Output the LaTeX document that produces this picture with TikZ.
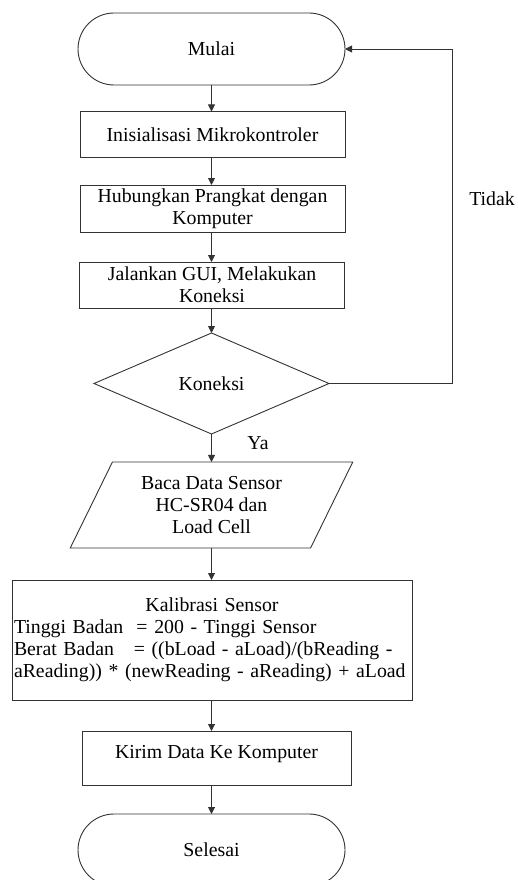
\documentclass[tikz,border=0pt]{standalone}
\usepackage{fontspec}
\setmainfont{Liberation Serif}
\newfontfamily\tnr{Liberation Serif}
\usetikzlibrary{shapes.geometric,arrows.meta}
\begin{document}
\begin{tikzpicture}[x=1pt,y=-1pt,
  every node/.style={font=\tnr\fontsize{19.8}{22}\selectfont, outer sep=0pt},
  ln/.style={draw=black!80, line width=0.9pt},
  arr/.style={ln, -{Triangle[width=7pt,length=7pt]}},
  term/.style={ln, rounded corners=36pt, minimum width=267pt, minimum height=72pt},
  procbox/.style={ln, minimum width=265pt, minimum height=46pt, align=center, inner sep=2pt},
  decis/.style={ln, diamond, minimum width=235pt, minimum height=101pt, inner sep=0pt},
  iobox/.style={ln, trapezium, trapezium left angle=62.4, trapezium right angle=117.6,
     trapezium stretches=true, minimum width=283pt, minimum height=86pt, align=center, inner sep=0pt},
  lbl/.style={inner sep=0pt}
]
\clip (0,0) rectangle (517,880);
\useasboundingbox (0,0) rectangle (517,880);

\node[term] (start) at (211.5,49) {Mulai};
\node[procbox] (init) at (212.5,134.5) {Inisialisasi Mikrokontroler};
\node[procbox, minimum height=47pt] (hub) at (212.5,208.5) {Hubungkan Prangkat dengan\\Komputer};
\node[procbox] (gui) at (212,285) {Jalankan GUI, Melakukan\\Koneksi};
\node[decis] (dec) at (211.5,383.5) {Koneksi};
\node[iobox] (baca) at (211.5,505) {Baca Data Sensor\\HC-SR04 dan\\Load Cell};
\node[ln, minimum width=400pt, minimum height=120pt, text width=396pt, align=left, inner sep=2pt] (kal) at (212,640)
  {\makebox[\linewidth]{Kalibrasi Sensor}\\
   Tinggi Badan\ \ = 200 - Tinggi Sensor\\
   Berat Badan\ \ \ = ((bLoad - aLoad)/(bReading -\\
   aReading)) * (newReading - aReading) + aLoad};
\node[procbox, minimum width=269pt, minimum height=54pt, text height=14pt, text depth=14pt] (kirim) at (216.5,758) {Kirim Data Ke Komputer};
\node[term] (end) at (211.5,850) {Selesai};

\node[lbl] (ya) at (258,443) {Ya};
\node[lbl] (tidak) at (492,199) {Tidak};
\coordinate (loopc) at (452,383.5);

\draw[arr] (start.south) -- (start.south |- init.north);
\draw[arr] (init.south -| start.south) -- (start.south |- hub.north);
\draw[arr] (hub.south -| start.south) -- (start.south |- gui.north);
\draw[arr] (gui.south -| start.south) -- (start.south |- dec.north);
\draw[arr] (dec.south) -- (dec.south |- baca.north);
\draw[arr] (baca.south) -- (baca.south |- kal.north);
\draw[arr] (kal.south -| baca.south) -- (baca.south |- kirim.north);
\draw[arr] (kirim.south -| baca.south) -- (baca.south |- end.north);
\draw[arr] (dec.east) -- (loopc) |- (start.east);
\end{tikzpicture}
\end{document}
